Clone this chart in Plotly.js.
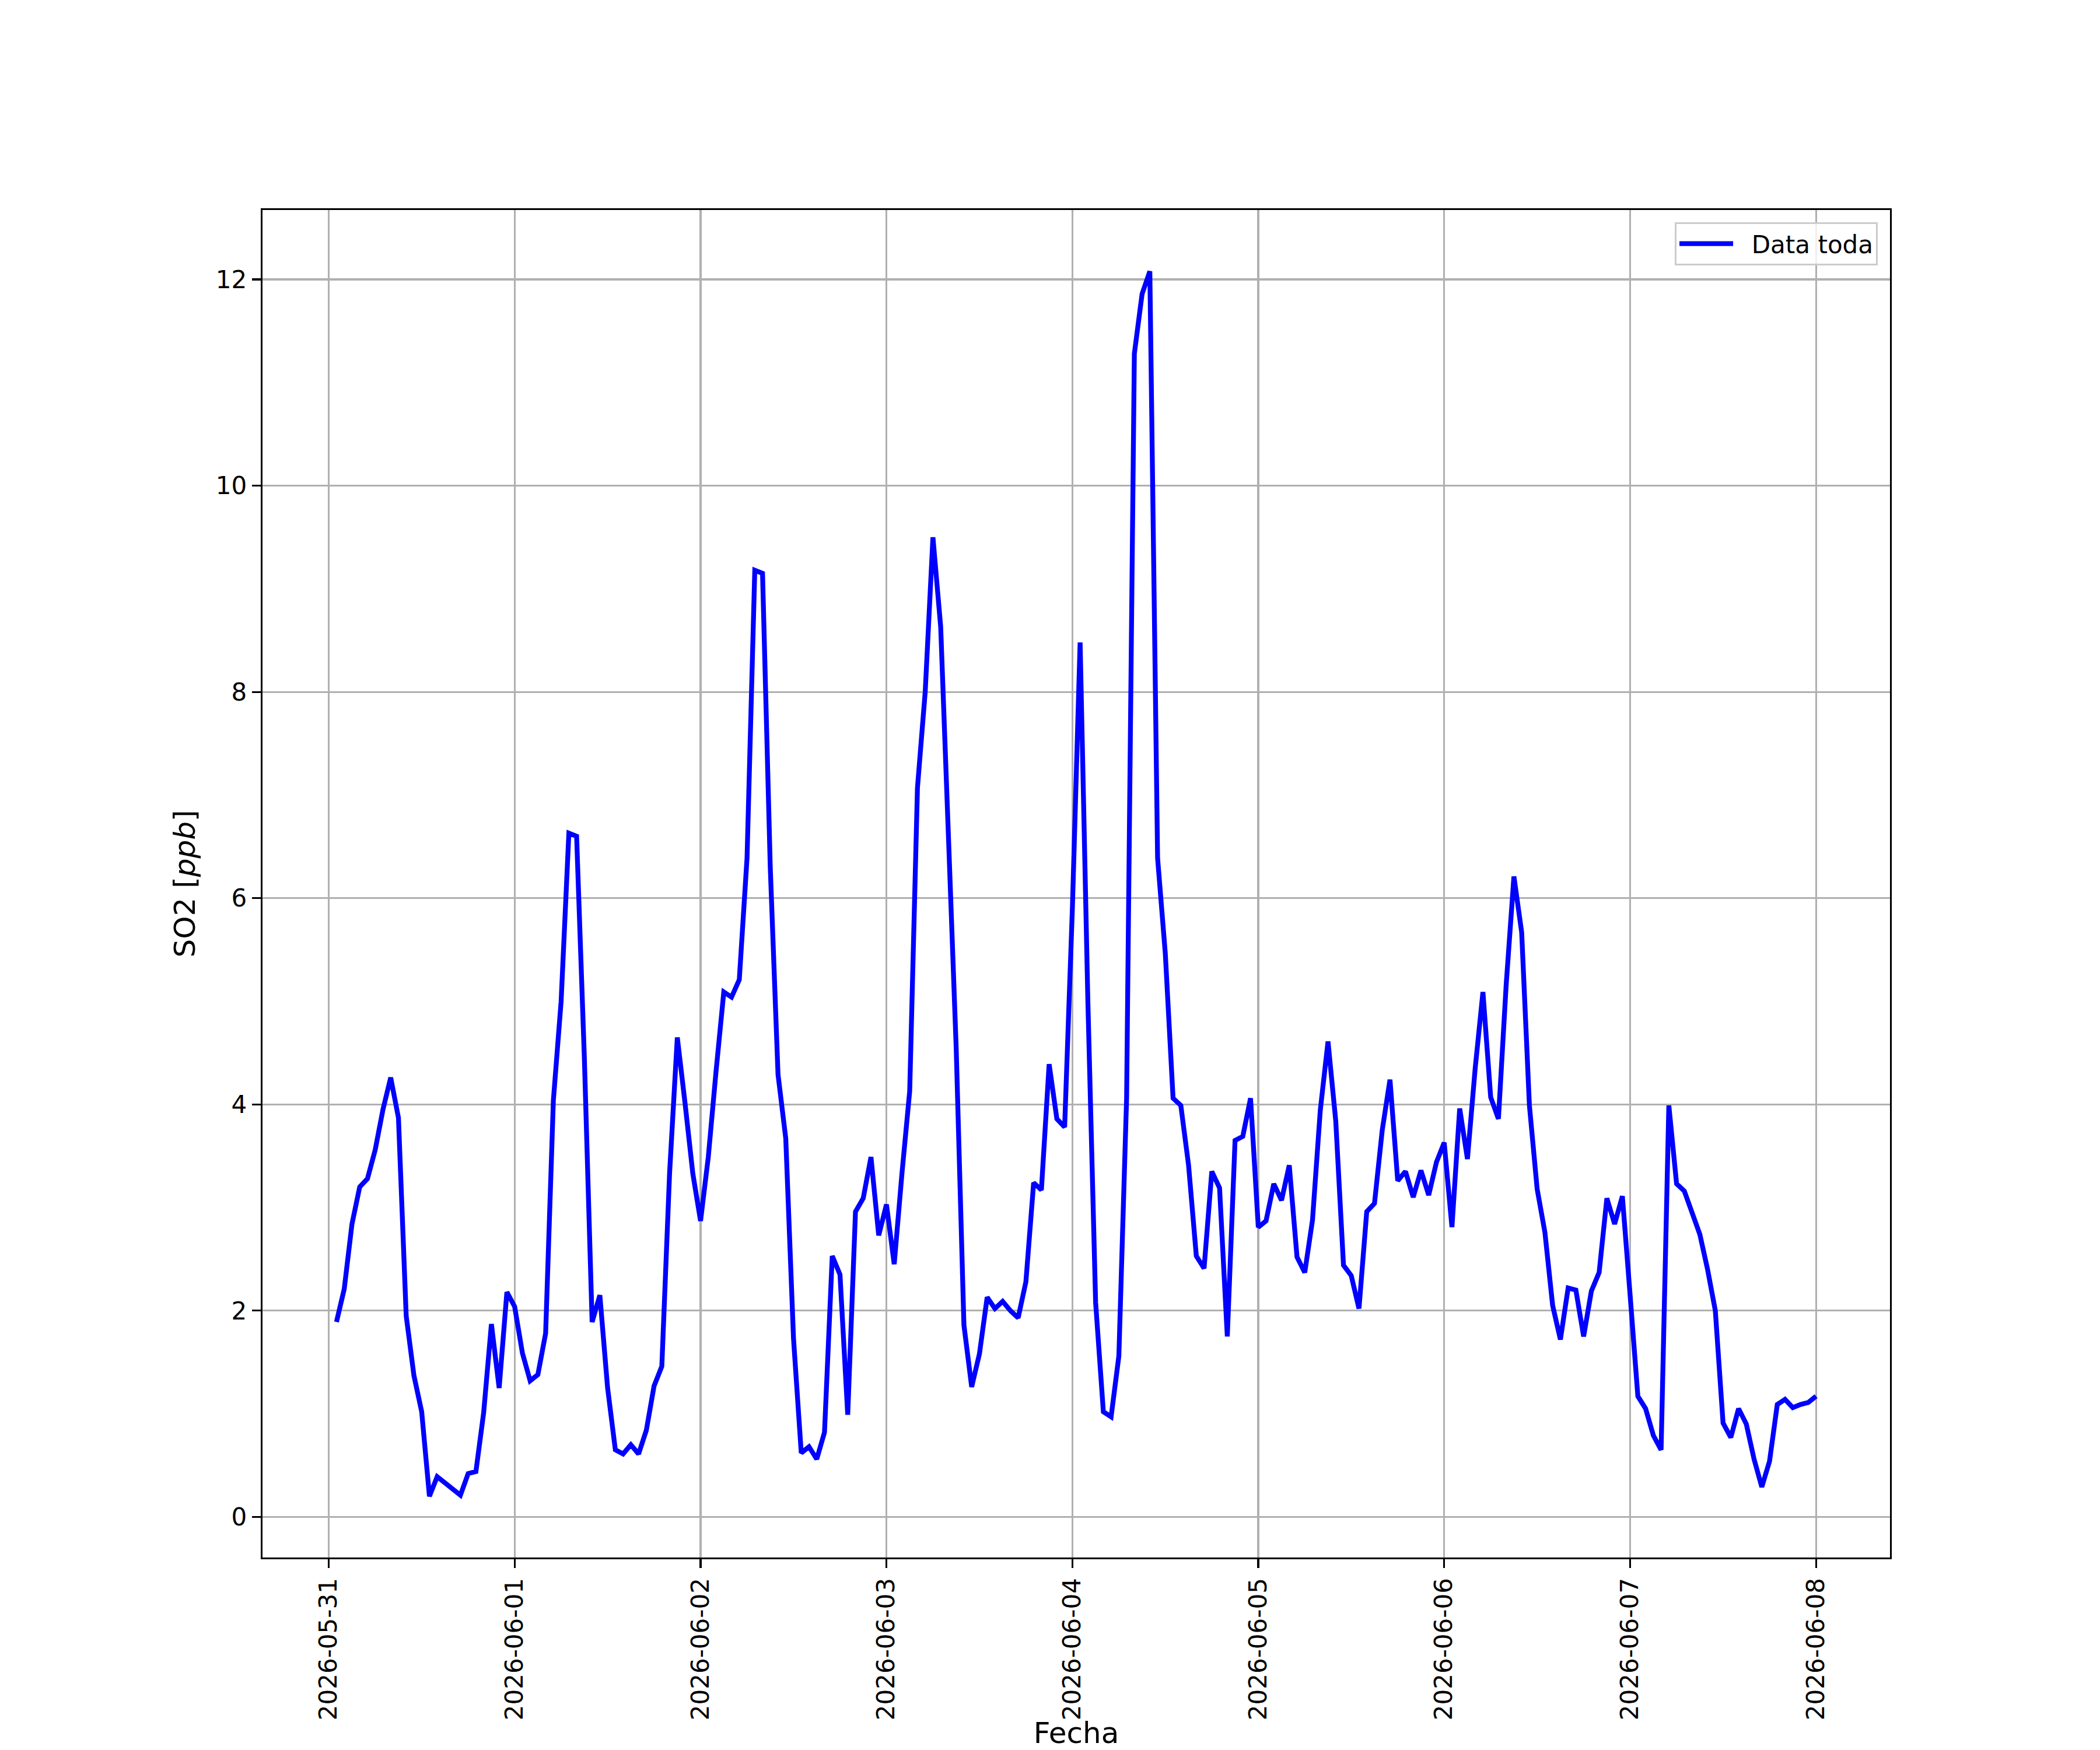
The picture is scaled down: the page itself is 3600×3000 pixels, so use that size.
<!DOCTYPE html>
<html>
<head>
<meta charset="utf-8">
<script src="https://cdn.plot.ly/plotly-3.0.1.min.js"></script>
<style>
  body { margin: 0; background: #fff; }
  #chart { width: 3600px; height: 3000px; }
</style>
</head>
<body>
<div id="chart"></div>
<script>
// dias de medicion, cada lista son las horas 01:00 ... 24:00
var dias = ['2026-05-31', '2026-06-01', '2026-06-02', '2026-06-03',
            '2026-06-04', '2026-06-05', '2026-06-06', '2026-06-07'];

var d0531 = [1.89, 2.21, 2.84, 3.20, 3.28, 3.56, 3.95, 4.26, 3.87, 1.95, 1.37, 1.02,
             0.20, 0.39, 0.33, 0.27, 0.21, 0.42, 0.44, 1.01, 1.87, 1.25, 2.18, 2.04];
var d0601 = [1.59, 1.32, 1.38, 1.78, 4.04, 5.00, 6.63, 6.60, 4.45, 1.89, 2.15, 1.25,
             0.65, 0.61, 0.70, 0.61, 0.84, 1.27, 1.46, 3.33, 4.65, 4.01, 3.33, 2.87];
var d0602 = [3.49, 4.32, 5.09, 5.04, 5.21, 6.39, 9.18, 9.15, 6.30, 4.29, 3.67, 1.73,
             0.62, 0.68, 0.56, 0.82, 2.53, 2.35, 0.99, 2.96, 3.09, 3.49, 2.73, 3.03];
var d0603 = [2.45, 3.33, 4.13, 7.07, 8.00, 9.50, 8.63, 6.60, 4.55, 1.86, 1.26, 1.58,
             2.13, 2.02, 2.09, 2.00, 1.93, 2.28, 3.24, 3.17, 4.39, 3.86, 3.78, 5.90];
var d0604 = [8.48, 5.00, 2.08, 1.02, 0.97, 1.56, 4.06, 11.28, 11.86, 12.08, 6.39, 5.46,
             4.06, 3.99, 3.41, 2.53, 2.41, 3.35, 3.19, 1.75, 3.65, 3.69, 4.06, 2.81];
var d0605 = [2.87, 3.23, 3.07, 3.41, 2.52, 2.37, 2.88, 3.94, 4.61, 3.84, 2.44, 2.34,
             2.02, 2.96, 3.04, 3.75, 4.24, 3.26, 3.35, 3.10, 3.36, 3.12, 3.44, 3.63];
var d0606 = [2.81, 3.96, 3.47, 4.35, 5.09, 4.07, 3.86, 5.16, 6.21, 5.67, 3.99, 3.18,
             2.76, 2.05, 1.72, 2.22, 2.20, 1.75, 2.19, 2.37, 3.09, 2.84, 3.11, 2.15];
var d0607 = [1.17, 1.05, 0.79, 0.65, 3.99, 3.23, 3.16, 2.95, 2.74, 2.40, 2.00, 0.91,
             0.77, 1.05, 0.90, 0.56, 0.29, 0.54, 1.09, 1.14, 1.06, 1.09, 1.11, 1.17];

var porDia = [d0531, d0601, d0602, d0603, d0604, d0605, d0606, d0607];

// armar fechas horarias
var x = [], y = [];
for (var i = 0; i < dias.length; i++) {
  var t0 = Date.parse(dias[i] + 'T00:00:00Z');
  for (var h = 0; h < porDia[i].length; h++) {
    x.push(t0 + (h + 1) * 3600000);
    y.push(porDia[i][h]);
  }
}

// margenes de 5% como matplotlib
var xmin = x[0], xmax = x[x.length - 1];
var ymin = Math.min.apply(null, y), ymax = Math.max.apply(null, y);
var dx = (xmax - xmin) * 0.05, dy = (ymax - ymin) * 0.05;

var fuente = {family: 'DejaVu Sans', size: 42, color: '#000'};
var fuenteTitulo = {family: 'DejaVu Sans', size: 50, color: '#000'};

var trace = {
  x: x, y: y,
  type: 'scatter',
  mode: 'lines',
  name: '\u00a0\u00a0Data toda',
  line: {color: '#0000ff', width: 8.3}
};

var layout = {
  width: 3600, height: 3000,
  margin: {l: 450, r: 360, t: 360, b: 330},
  paper_bgcolor: '#fff',
  plot_bgcolor: '#fff',
  font: fuente,
  showlegend: true,
  legend: {
    x: 0.9925, y: 0.991, xanchor: 'right', yanchor: 'top',
    bgcolor: 'rgba(255,255,255,0.8)',
    bordercolor: '#cccccc', borderwidth: 3,
    itemwidth: 92,
    font: fuente
  },
  xaxis: {
    type: 'date',
    range: [xmin - dx, xmax + dx],
    dtick: 86400000,
    tick0: '2026-05-31',
    tickformat: '%Y-%m-%d',
    tickangle: -90,
    ticks: 'outside', ticklen: 15, tickwidth: 3.3, tickcolor: '#000',
    tickfont: fuente,
    showgrid: true, gridcolor: '#b0b0b0', gridwidth: 3.3,
    showline: true, mirror: true, linecolor: '#000', linewidth: 3.3,
    zeroline: false,
    automargin: false,
    title: {text: 'Fecha', font: fuenteTitulo, standoff: 29}
  },
  yaxis: {
    range: [ymin - dy, ymax + dy],
    tick0: 0, dtick: 2,
    ticks: 'outside', ticklen: 15, tickwidth: 3.3, tickcolor: '#000',
    tickfont: fuente,
    showgrid: true, gridcolor: '#b0b0b0', gridwidth: 3.3,
    showline: true, mirror: true, linecolor: '#000', linewidth: 3.3,
    zeroline: false,
    automargin: false,
    title: {text: 'SO2 [<i>ppb</i>]', font: fuenteTitulo, standoff: 20}
  }
};

Plotly.newPlot('chart', [trace], layout, {displayModeBar: false, staticPlot: true});
</script>
</body>
</html>
